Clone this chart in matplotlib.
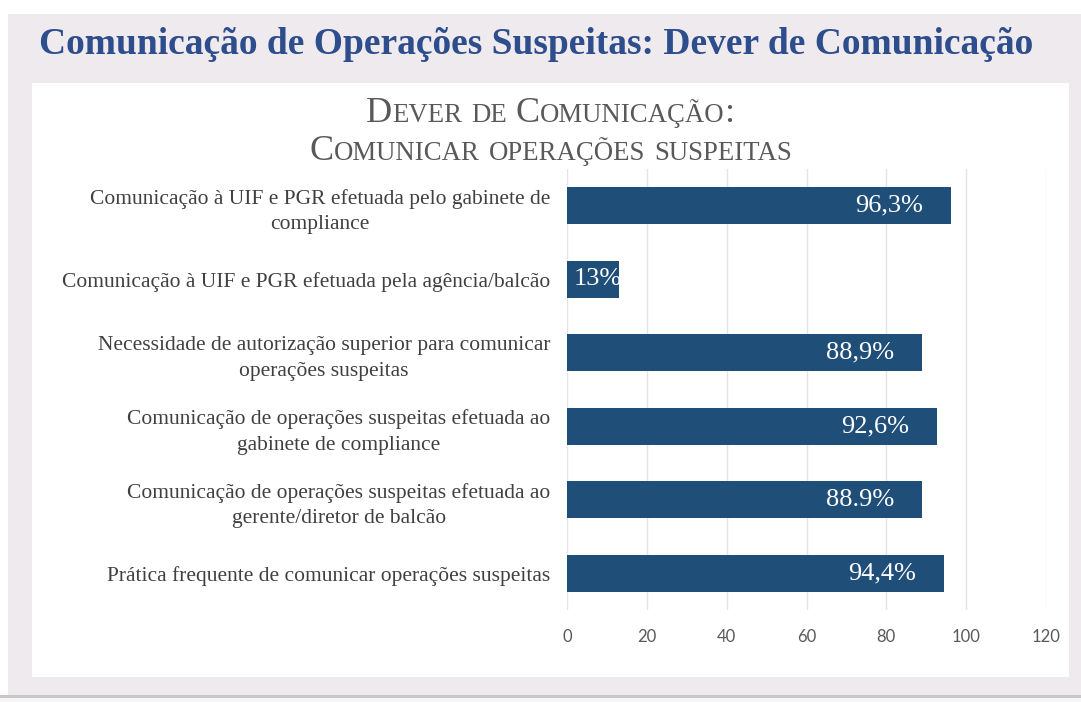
import matplotlib
matplotlib.use('Agg')
import matplotlib.pyplot as plt
from matplotlib.patches import Rectangle

categories = [
    'Comunicação à UIF e PGR efetuada pelo gabinete de\ncompliance',
    'Comunicação à UIF e PGR efetuada pela agência/balcão',
    'Necessidade de autorização superior para comunicar\noperações suspeitas',
    'Comunicação de operações suspeitas efetuada ao\ngabinete de compliance',
    'Comunicação de operações suspeitas efetuada ao\ngerente/diretor de balcão',
    'Prática frequente de comunicar operações suspeitas',
]
values = [96.3, 13, 88.9, 92.6, 88.9, 94.4]
value_labels = ['96,3%', '13%', '88,9%', '92,6%', '88.9%', '94,4%']
xticks = [0, 20, 40, 60, 80, 100, 120]

W, H = 1081, 702
fig = plt.figure(figsize=(W / 100, H / 100), dpi=100)
fig.patch.set_facecolor('white')


def px_rect(x0, y0, x1, y1, color):
    # rectangle in image pixel coords (origin top-left)
    fig.patches.append(Rectangle((x0 / W, 1 - y1 / H), (x1 - x0) / W, (y1 - y0) / H,
                                 transform=fig.transFigure, facecolor=color,
                                 edgecolor='none', zorder=-5))


px_rect(8, 14, 1081, 695, '#EEEAEE')
px_rect(0, 695, 1081, 698, '#C8C6C8')
px_rect(0, 698, 1081, 702, '#F6F6F6')
px_rect(32, 83, 1069, 677, 'white')

fig.text(536 / W, 1 - 45 / H, 'Comunicação de Operações Suspeitas: Dever de Comunicação',
         ha='center', va='center', family='Liberation Serif', weight='bold',
         fontsize=27, color='#2E4D8C')


def small_caps(text, xc, yc, size, color):
    # fake small caps: capitals big, lowercase as smaller capitals
    runs = []
    for ch in text:
        big = not ch.islower()
        if runs and runs[-1][1] == big:
            runs[-1][0] += ch
        else:
            runs.append([ch, big])
    fig.canvas.draw()
    r = fig.canvas.get_renderer()
    pieces = []
    total = 0
    for s, big in runs:
        t = fig.text(0, 1 - yc / H, s.upper(), family='Liberation Serif',
                     fontsize=size if big else size * 0.74, color=color,
                     va='baseline', ha='left')
        w = t.get_window_extent(r).width
        pieces.append((t, w))
        total += w
    x = xc - total / 2
    for t, w in pieces:
        t.set_x(x / W)
        x += w


small_caps('Dever de Comunicação:', 550, 122, 26, '#595959')
small_caps('Comunicar operações suspeitas', 551, 160, 26, '#595959')

ax = fig.add_axes([567 / W, 1 - 610 / H, (1046 - 567) / W, (610 - 169) / H])
ypos = list(range(len(categories)))
bars = ax.barh(ypos, values, height=0.5, color='#1F4E79', zorder=3)
ax.set_ylim(len(categories) - 0.5, -0.5)
ax.set_xlim(0, 120)
ax.set_xticks(xticks)
ax.set_xticklabels([str(v) for v in xticks], family='Lato', fontsize=12, color='#595959')
ax.set_yticks(ypos)
ax.set_yticklabels(categories, family='Liberation Serif', fontsize=15.5, color='#404040',
                   multialignment='center', linespacing=1.45)
ax.tick_params(length=0, pad=12, axis='y')
ax.tick_params(length=0, pad=14, axis='x')
for s in ax.spines.values():
    s.set_visible(False)
ax.xaxis.grid(True, color='#E4E2EA', linewidth=1)
ax.set_axisbelow(True)
ax.patch.set_alpha(0)

for bar, v, lab in zip(bars, values, value_labels):
    yc = bar.get_y() + bar.get_height() / 2
    if v < 20:
        ax.annotate(lab, (0, yc), xytext=(7, 0), textcoords='offset pixels',
                    ha='left', va='center', color='white', family='Liberation Serif',
                    fontsize=19, zorder=4)
    else:
        ax.annotate(lab, (v, yc), xytext=(-28, 0), textcoords='offset pixels',
                    ha='right', va='center', color='white', family='Liberation Serif',
                    fontsize=19, zorder=4)

fig.savefig('out.png', dpi=100, facecolor=fig.get_facecolor())
